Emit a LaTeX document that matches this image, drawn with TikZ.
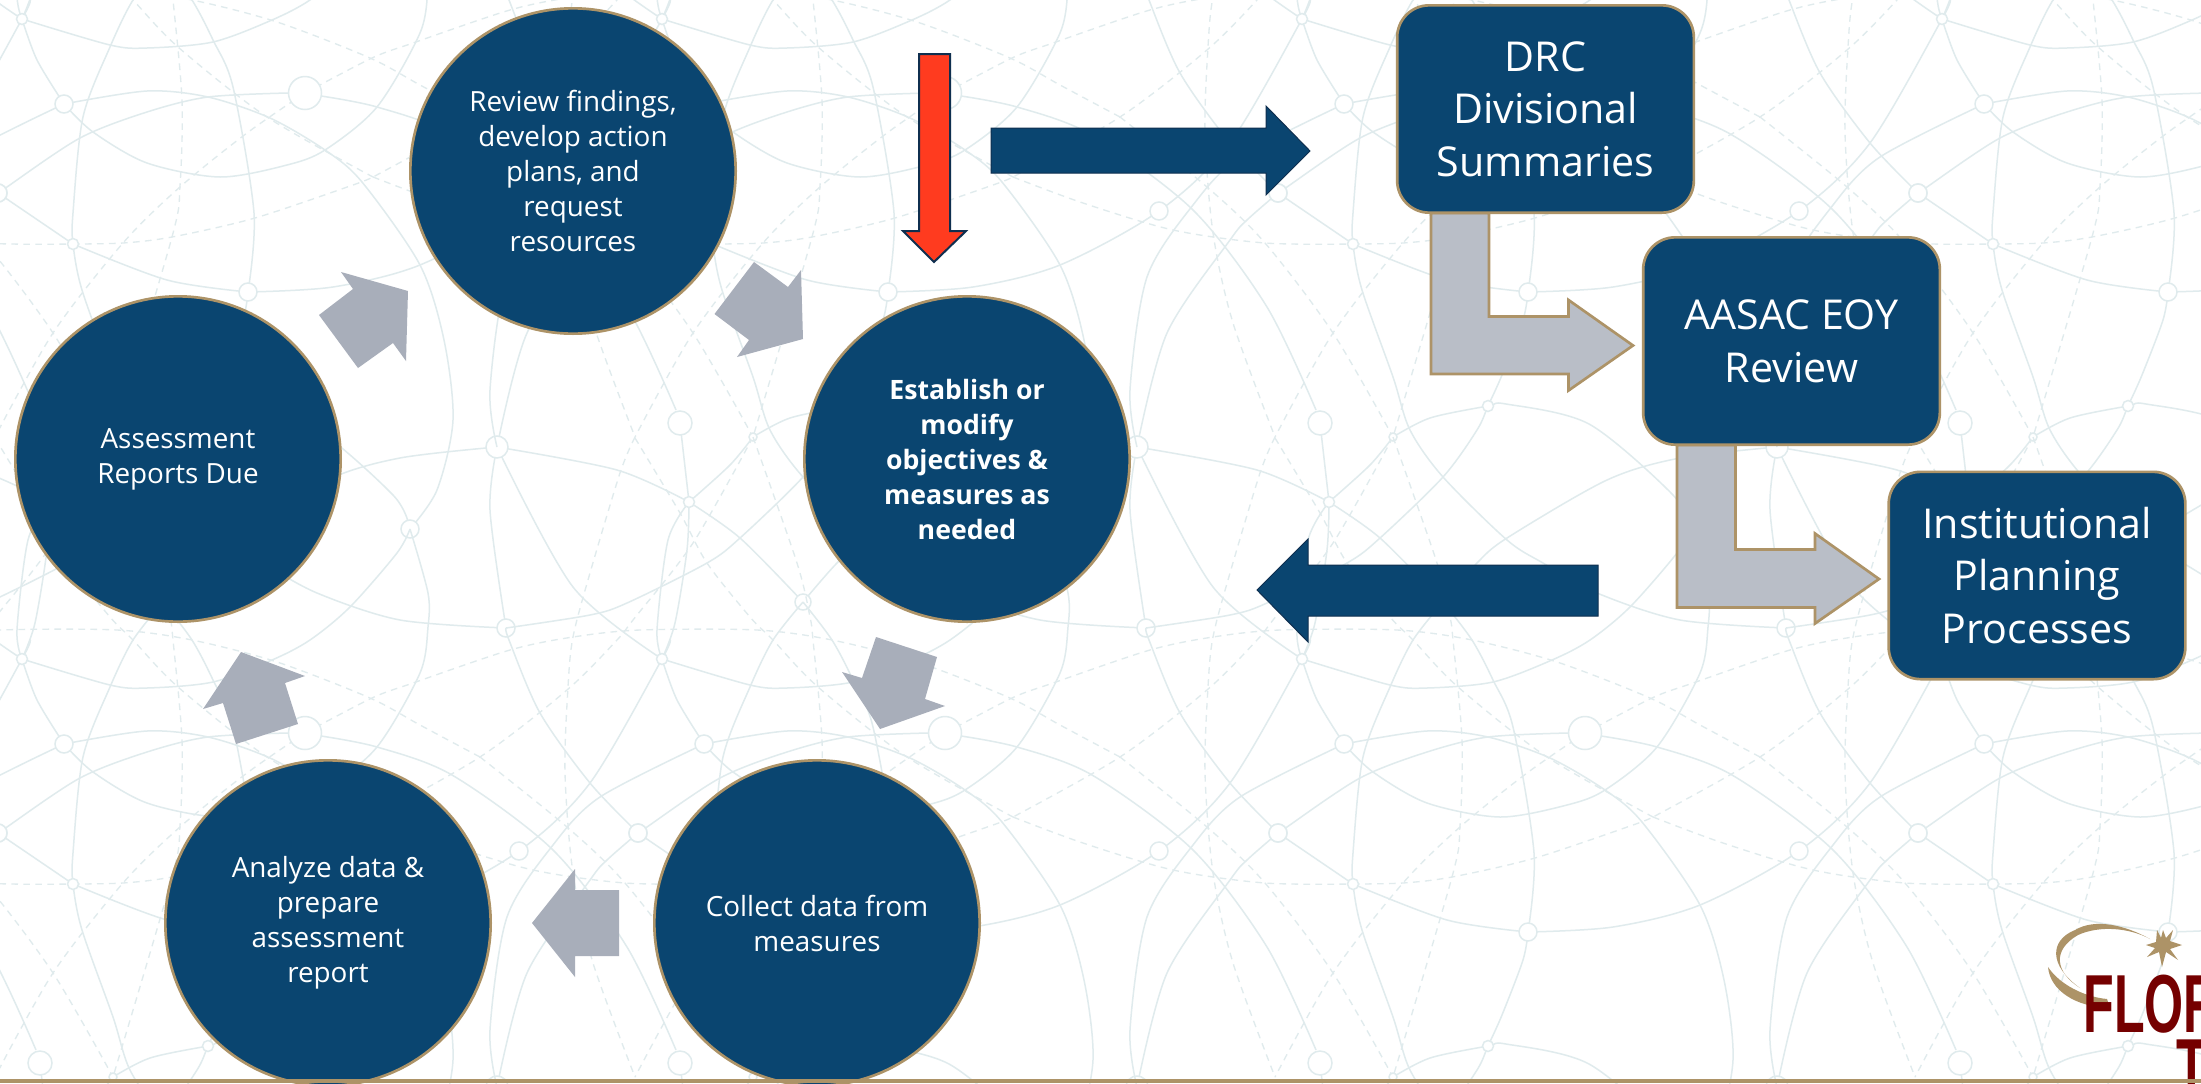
\documentclass[tikz,border=0pt]{standalone}
\usepackage{fontspec}
\setmainfont{Open Sans}
\usepackage[dvipsnames]{xcolor}
\definecolor{navy}{HTML}{0A4570}
\definecolor{navyedge}{HTML}{0F2F4F}
\definecolor{tan}{HTML}{AD9367}
\definecolor{flowgray}{HTML}{A8AEBA}
\definecolor{bentgray}{HTML}{B9BEC7}
\definecolor{alert}{HTML}{FF3B1F}
\definecolor{mesh}{HTML}{E0EBED}
\definecolor{maroon}{HTML}{750000}
\tikzset{
  cyclenode/.style={circle,draw=tan,fill=navy,line width=.8pt,minimum size=97.6pt,inner sep=0pt,
    align=center,text=white,font=\fontsize{8.35}{10.5}\selectfont},
  boxnode/.style={draw=tan,fill=navy,line width=.8pt,rounded corners=9.6pt,minimum width=89pt,minimum height=62.2pt,
    inner sep=0pt,align=center,text=white,font=\fontsize{12.35}{15.8}\selectfont},
  flowarrow/.style={fill=flowgray},
  bentarrow/.style={draw=tan,fill=bentgray,line width=.8pt},
  bluearrow/.style={draw=navyedge,fill=navy,line width=.3pt},
  redarrow/.style={draw=navyedge,fill=alert,line width=.6pt},
  meshline/.style={draw=mesh,line width=.45pt},
  meshdash/.style={draw=mesh,line width=.4pt,dash pattern=on 2pt off 1.6pt},
  logotext/.style={anchor=base west,inner sep=0pt,text=maroon,xscale=.61,font=\fontspec{Liberation Sans}\bfseries\fontsize{24.7}{24.7}\selectfont},
}
% one 640 x 640 tile of the background mesh
\newcommand{\meshtile}{
  \draw[meshline] plot[smooth] coordinates {(321,96) (377,107) (452,135) (553,210) (627,307) (676,410)};
  \draw[meshline] plot[smooth] coordinates {(0,193) (7,187) (80,138) (147,112) (208,97) (288,93)};
  \draw[meshline] plot[smooth] coordinates {(64,104) (147,91) (208,97) (270,118) (325,150) (362,182) (420,265) (444,340) (453,420) (437,490) (410,529)};
  \draw[meshline] plot[smooth] coordinates {(64,104) (93,132) (147,163) (220,177) (287,165) (325,150) (377,107) (420,33) (428,-13) (428,-47) (410,-111)};
  \draw[meshline] plot[smooth] coordinates {(22,19) (110,45) (147,48) (213,42) (272,20) (310,0) (350,-33) (397,-87) (410,-111)};
  \draw[meshline] plot[smooth] coordinates {(248,292) (333,287) (420,265) (519,211) (590,143) (662,19) (670,0)};
  \draw[meshline] plot[smooth] coordinates {(22,19) (37,60) (64,104)};
  \draw[meshline] plot[smooth] coordinates {(49,502) (47,550) (35,623) (22,659)};
  \draw[meshline] plot[smooth] coordinates {(49,502) (28,540) (17,630) (22,659)};
  \draw[meshline] plot[smooth] coordinates {(40,423) (49,502)};
  \draw[meshline] plot[smooth] coordinates {(49,502) (90,465) (113,437)};
  \draw[meshline] plot[smooth] coordinates {(497,447) (617,470) (689,502)};
  \draw[meshline] plot[smooth] coordinates {(49,502) (100,538) (163,602)};
  \draw[meshline] plot[smooth] coordinates {(163,-38) (192,0) (213,40) (233,87) (254,213) (248,292)};
  \draw[meshline] plot[smooth] coordinates {(163,-38) (133,0) (110,47) (83,117) (73,213) (73,244) (82,290) (113,377) (130,430) (163,477) (227,540) (263,563) (317,593) (400,620) (506,628)};
  \draw[meshline] plot[smooth] coordinates {(248,292) (243,320) (222,375) (208,406) (197,430) (163,477) (100,538) (67,563) (-13,603) (-50,615) (-134,628)};
  \draw[meshline] plot[smooth] coordinates {(506,-12) (509,0) (540,73) (590,143) (638,193)};
  \draw[meshline] plot[smooth] coordinates {(-2,193) (73,244)};
  \draw[meshline] plot[smooth] coordinates {(73,244) (167,280) (248,292)};
  \draw[meshline] plot[smooth] coordinates {(638,193) (607,220) (590,240) (527,333) (497,447)};
  \draw[meshline] plot[smooth] coordinates {(64,104) (-40,157) (-87,205) (-133,277) (-150,390) (-143,447)};
  \draw[meshline] plot[smooth] coordinates {(497,447) (490,510) (506,628)};
  \draw[meshline] plot[smooth] coordinates {(497,447) (573,587) (662,659)};
  \draw[meshline] plot[smooth] coordinates {(113,437) (150,418) (208,406) (226,404) (309,424) (393,495) (410,529)};
  \draw[meshline] plot[smooth] coordinates {(497,447) (400,458) (327,480) (227,538) (197,563) (163,602)};
  % dashed part
  \draw[meshdash] plot[smooth] coordinates {(73,244) (123,243) (172,237) (255,218) (353,185) (373,177)};
  \draw[meshdash] plot[smooth] coordinates {(305,93) (372,58) (413,43) (510,10) (573,-3) (640,-10) (757,-10) (832,0) (917,22) (1010,58) (1060,85) (1120,117)};
  \draw[meshdash] plot[smooth] coordinates {(373,177) (443,203) (533,230) (625,243) (713,244)};
  \draw[meshdash] plot[smooth] coordinates {(-5,-202) (40,-127) (67,-77) (110,-23) (133,0) (178,47) (267,117) (373,177)};
  \draw[meshdash] plot[smooth] coordinates {(480,117) (567,187) (625,243) (693,333) (753,437)};
  \draw[meshdash] plot[smooth] coordinates {(113,-203) (157,-77) (170,-23) (173,0) (182,100) (180,186) (172,237) (113,437)};
  \draw[meshdash] plot[smooth] coordinates {(305,93) (247,133) (180,187) (123,243) (53,333) (-5,437)};
  \draw[meshdash] plot[smooth] coordinates {(635,-203) (620,-167) (590,-67) (573,-3) (568,47) (565,133) (573,233) (593,323) (635,437)};
  \draw[meshdash] plot[smooth] coordinates {(113,437) (53,543) (-7,620) (-23,640) (-73,690) (-160,757) (-267,817)};
  % small rings on the arcs
  \foreach \cx/\cy/\cr in {22/19/5.5,64/104/9,638/193/9,-2/193/9,73/244/5.5,305/93/16.5,248/292/9,519/211/9,40/423/12,
      497/447/11,113/437/4,208/406/5.5,49/502/5.5,506/628/9,410/529/9,163/602/8}
    \draw[meshline,fill=white] (\cx,\cy) circle[radius=\cr];
}

\begin{document}
\begin{tikzpicture}[x=.3pt,y=-.3pt]
  \useasboundingbox (0,0) rectangle (2201,1083);
  \clip (0,0) rectangle (2201,1083);
  \fill[white] (0,0) rectangle (2201,1083);

  % background mesh
  \foreach \tx in {-1280,-640,0,640,1280,1920} {
    \foreach \ty in {-640,0,640} {
      \begin{scope}[shift={(\tx,\ty)}]
        \meshtile
      \end{scope}
    }
  }

  % arrows of the cycle
  \fill[flowarrow] (754,262) -- (788,287) -- (801,270) -- (803,339) -- (737,357) -- (749,340) -- (714.5,314) -- cycle;
  \fill[flowarrow] (876,637) -- (937,657) -- (925,699) -- (945,706) -- (880,729) -- (842,672) -- (862,678) -- cycle;
  \fill[flowarrow] (532,923) -- (575,869) -- (575,890) -- (619,890) -- (619,956) -- (575,956) -- (575,977) -- cycle;
  \fill[flowarrow] (241,652) -- (305,676) -- (285,683) -- (298,724) -- (236,744) -- (223,703) -- (203,709) -- cycle;
  \fill[flowarrow] (341,272) -- (408,291) -- (406,361) -- (393,343) -- (358,368) -- (319,315) -- (353,289) -- cycle;

  % cycle
  \node[cyclenode] (review) at (573,171) {Review findings,\\develop action\\plans, and\\request\\resources};
  \node[cyclenode,font=\fontsize{8}{10.5}\selectfont\bfseries] (establish) at (967,459) {Establish or\\modify\\objectives \&\\measures as\\needed};
  \node[cyclenode] (collect) at (817,923) {Collect data from\\measures};
  \node[cyclenode] (analyze) at (328,923) {Analyze data \&\\prepare\\assessment\\report};
  \node[cyclenode] (reports) at (178,459) {Assessment\\Reports Due};

  % large arrows
  \draw[redarrow] (919,54) -- (950,54) -- (950,231) -- (966,231) -- (934,262) -- (903,231) -- (919,231) -- cycle;
  \draw[bluearrow] (991,128) -- (1266,128) -- (1266,106) -- (1310,151) -- (1266,195) -- (1266,173) -- (991,173) -- cycle;
  \draw[bluearrow] (1257,590) -- (1308,539) -- (1308,565) -- (1598,565) -- (1598,616) -- (1308,616) -- (1308,642) -- cycle;
  \draw[bentarrow] (1431,213) -- (1489,213) -- (1489,316.5) -- (1568.5,316.5) -- (1568.5,300) -- (1633,345.5) -- (1568.5,390.5) -- (1568.5,374) -- (1431,374) -- cycle;
  \draw[bentarrow] (1677,445) -- (1735.5,445) -- (1735.5,549.5) -- (1815,549.5) -- (1815,533.5) -- (1879,579) -- (1815,623.5) -- (1815,607.5) -- (1677,607.5) -- cycle;

  % boxes on the right
  \node[boxnode] (drc) at (1545.5,109) {DRC\\Divisional\\Summaries};
  \node[boxnode] (aasac) at (1791.5,341) {AASAC EOY\\Review};
  \node[boxnode] (planning) at (2037,575.5) {Institutional\\Planning\\Processes};

  % logo, cut by the edge of the slide
  \fill[tan] (2163,930) -- (2166,938) -- (2173,930) -- (2170,941) -- (2182,945) -- (2170,949) -- (2178,960) -- (2166,952)
    -- (2162,967) -- (2159,952) -- (2147,957) -- (2155,948) -- (2146,945) -- (2156,942) -- (2157,930) -- (2161,938) -- cycle;
  \fill[tan] (2150,939) .. controls (2125,925) and (2095,918) .. (2075,930) .. controls (2050,940) and (2048,965) .. (2080,988)
    .. controls (2055,972) and (2052,950) .. (2078,935) .. controls (2100,925) and (2130,928) .. cycle;
  \fill[tan] (2048,967) .. controls (2050,990) and (2075,1007) .. (2110,1008) -- (2107,999) .. controls (2085,997) and (2060,985) .. cycle;
  \node[logotext] (logoa) at (2083,1032) {FLOR};
  \node[logotext] (logob) at (2176,1096) {T};

  % rule at the foot of the slide
  \fill[tan] (0,1078.5) rectangle (2201,1083);
\end{tikzpicture}
\end{document}
